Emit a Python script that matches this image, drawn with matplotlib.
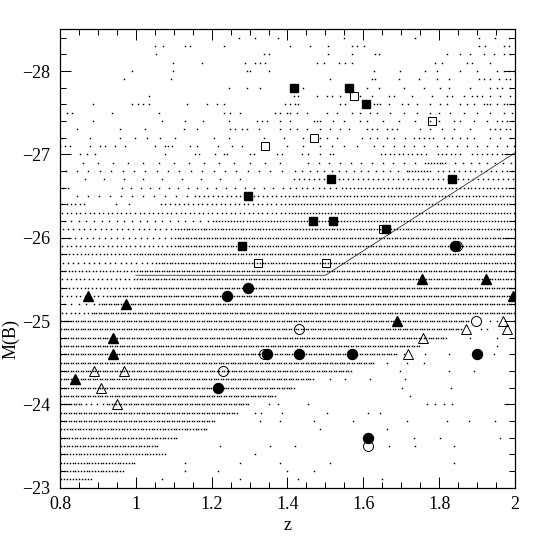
import numpy as np
import matplotlib
matplotlib.use("Agg")
import matplotlib.pyplot as plt
from matplotlib.ticker import MultipleLocator, FuncFormatter

# quasar sample: individual background dots for the sparse bright rows (M, list of z)
sparse_rows = [
    (-28.4, [1.271, 1.315, 1.375, 1.548, 1.737, 1.904, 1.948, 1.983]),
    (-28.3, [1.051, 1.073, 1.130, 1.142, 1.232, 1.407, 1.460, 1.508, 1.570, 1.583, 1.601,
             1.904, 1.922, 1.970, 1.983]),
    (-28.2, [1.054, 1.337, 1.350, 1.508, 1.570, 1.631, 1.640, 1.821, 1.856, 1.882, 1.917,
             1.944, 1.970, 1.988]),
    (-28.1, [1.098, 1.174, 1.289, 1.315, 1.328, 1.342, 1.477, 1.495, 1.535, 1.552, 1.570,
             1.790, 1.807, 1.873, 1.887, 1.935]),
    (-28.0, [0.990, 1.098, 1.293, 1.302, 1.350, 1.627, 1.697, 1.763, 1.794, 1.856, 1.900,
             1.953, 1.970, 1.983, 1.997]),
    (-27.9, [0.968, 1.092, 1.513, 1.623, 1.631, 1.693, 1.746, 1.794, 1.825, 1.904, 1.917,
             1.935, 1.957, 1.975, 1.988]),
    (-27.8, [1.245, 1.293, 1.328, 1.442, 1.609, 1.640, 1.706, 1.759, 1.803, 1.825, 1.882,
             1.935, 1.953, 1.966, 1.988]),
    (-27.7, [1.036, 1.416, 1.429, 1.477, 1.504, 1.517, 1.539, 1.592, 1.623, 1.667, 1.680,
             1.728, 1.781, 1.821, 1.834, 1.865, 1.887, 1.900, 1.913, 1.935, 1.961, 1.988]),
    (-27.6, [0.888, 0.990, 1.007, 1.020, 1.034, 1.135, 1.188, 1.214, 1.232, 1.394, 1.407,
             1.420, 1.429, 1.539, 1.552, 1.627, 1.636, 1.645, 1.667, 1.702, 1.719, 1.741,
             1.777, 1.803, 1.821, 1.856, 1.873, 1.891, 1.917, 1.926, 1.935, 1.953, 1.970,
             1.979, 1.988, 1.997]),
    (-27.5, [0.818, 0.831, 0.938, 1.060, 1.232, 1.249, 1.276, 1.368, 1.381, 1.399, 1.407,
             1.425, 1.451, 1.504, 1.530, 1.570, 1.592, 1.618, 1.636, 1.671, 1.706, 1.741,
             1.777, 1.799, 1.829, 1.865, 1.900, 1.935, 1.970, 1.992]),
    (-27.4, [0.888, 1.069, 1.130, 1.178, 1.245, 1.320, 1.333, 1.346, 1.381, 1.407, 1.469,
             1.477, 1.486, 1.521, 1.548, 1.592, 1.609, 1.653, 1.693, 1.737, 1.777, 1.799,
             1.838, 1.856, 1.891, 1.926, 1.953, 1.966, 1.979, 1.992]),
    (-27.3, [0.844, 0.959, 1.025, 1.126, 1.161, 1.249, 1.262, 1.280, 1.293, 1.324, 1.381,
             1.407, 1.425, 1.451, 1.486, 1.513, 1.539, 1.561, 1.609, 1.623, 1.636, 1.662,
             1.675, 1.689, 1.750, 1.777, 1.807, 1.838, 1.882, 1.935, 1.948, 1.961, 1.975,
             1.988]),
    (-27.2, [0.805, 0.880, 0.959, 0.998, 1.029, 1.064, 1.104, 1.205, 1.245, 1.337, 1.390,
             1.442, 1.486, 1.504, 1.530, 1.596, 1.618, 1.636, 1.662, 1.680, 1.711, 1.733,
             1.746, 1.759, 1.772, 1.785, 1.812, 1.834, 1.856, 1.873, 1.891, 1.935, 1.961,
             1.988]),
    (-27.1, [0.800, 0.813, 0.826, 0.880, 0.906, 0.919, 0.946, 0.972, 1.051, 1.078, 1.086,
             1.095, 1.144, 1.161, 1.218, 1.253, 1.280, 1.399, 1.442, 1.486, 1.517, 1.548,
             1.583, 1.627, 1.653, 1.680, 1.706, 1.733, 1.759, 1.794, 1.821, 1.847, 1.873,
             1.900, 1.926, 1.953, 1.979, 1.997]),
    (-27.0, [0.853, 0.871, 0.893, 1.078, 1.157, 1.166, 1.209, 1.232, 1.240, 1.302, 1.311,
             1.372, 1.386, 1.438, 1.455, 1.486, 1.513, 1.521]),
    # faint tail beyond the survey limit
    (-25.0, [1.935, 1.953, 1.997]),
    (-24.9, [1.909, 1.926]),
    (-24.8, [1.882, 1.953]),
    (-24.7, [1.953]),
    (-24.6, [1.706, 1.763, 1.825, 1.944]),
    (-24.5, [1.662, 1.715, 1.759]),
    (-24.4, [1.697, 1.825, 1.891]),
    (-24.3, [1.513, 1.552, 1.618, 1.711]),
    (-24.2, [1.702, 1.830]),
    (-24.1, [1.724]),
    (-24.0, [1.350, 1.376, 1.455, 1.768, 1.790, 1.812, 1.834, 1.979]),
    (-23.9, [1.315, 1.330, 1.385, 1.504, 1.612, 1.645]),
    (-23.8, [1.328, 1.380, 1.469, 1.574, 1.715, 1.821, 1.878, 1.948]),
    (-23.7, [1.486, 1.662]),
    (-23.6, [1.733, 1.803, 1.961]),
    (-23.5, [1.223, 1.354, 1.420, 1.667, 1.737, 1.840]),
    (-23.4, [1.315]),
    (-23.3, [1.130, 1.276, 1.381, 1.513, 1.838]),
    (-23.2, [1.130, 1.218, 1.399, 1.469]),
    (-23.1, [1.069, 1.276, 1.429, 1.649]),
]

# crowded rows: (M, z from, z to, typical dot spacing in z)
dense_runs = [
    (-27.0, 1.64, 1.77, 0.012), (-27.0, 1.79, 1.86, 0.012), (-27.0, 1.88, 2.0, 0.014),
    (-26.9, 0.84, 1.40, 0.04), (-26.9, 1.44, 1.75, 0.028), (-26.9, 1.76, 1.82, 0.008),
    (-26.9, 1.83, 2.0, 0.02),
    (-26.8, 0.80, 1.40, 0.03), (-26.8, 1.41, 1.70, 0.02), (-26.8, 1.71, 1.78, 0.008),
    (-26.8, 1.79, 2.0, 0.014),
    (-26.7, 0.84, 1.30, 0.05), (-26.7, 1.41, 2.0, 0.013),
    (-26.6, 0.80, 0.83, 0.015), (-26.6, 0.95, 1.40, 0.025), (-26.6, 1.40, 1.55, 0.015),
    (-26.6, 1.55, 2.0, 0.01),
    (-26.5, 0.83, 1.15, 0.03), (-26.5, 1.15, 1.40, 0.012), (-26.5, 1.40, 2.0, 0.009),
    (-26.4, 0.80, 0.87, 0.012), (-26.4, 0.93, 1.0, 0.03), (-26.4, 1.06, 1.40, 0.012),
    (-26.4, 1.40, 2.0, 0.008),
    (-26.3, 0.80, 1.40, 0.012), (-26.3, 1.40, 2.0, 0.008),
    (-26.2, 0.80, 1.20, 0.02), (-26.2, 1.20, 2.0, 0.008),
    (-26.1, 0.80, 1.10, 0.014), (-26.1, 1.10, 2.0, 0.0075),
    (-26.0, 0.80, 1.10, 0.016), (-26.0, 1.10, 2.0, 0.007),
    (-25.9, 0.80, 1.10, 0.012), (-25.9, 1.10, 2.0, 0.007),
    (-25.8, 0.80, 1.00, 0.01), (-25.8, 1.00, 2.0, 0.007),
    (-25.7, 0.80, 1.05, 0.014), (-25.7, 1.05, 2.0, 0.0072),
    (-25.6, 0.80, 1.00, 0.009), (-25.6, 1.00, 2.0, 0.0066),
    (-25.5, 0.80, 1.00, 0.012), (-25.5, 1.00, 2.0, 0.007),
    (-25.4, 0.80, 1.00, 0.01), (-25.4, 1.00, 2.0, 0.0064),
    (-25.3, 0.80, 0.93, 0.012), (-25.3, 0.93, 2.0, 0.0064),
    (-25.2, 0.80, 0.90, 0.02), (-25.2, 0.90, 2.0, 0.0064),
    (-25.1, 0.80, 0.88, 0.012), (-25.1, 0.88, 2.0, 0.0064),
    (-25.0, 0.80, 1.88, 0.0064),
    (-24.9, 0.80, 1.86, 0.0064),
    (-24.8, 0.80, 1.82, 0.0064),
    (-24.7, 0.80, 1.75, 0.0064),
    (-24.6, 0.80, 1.69, 0.0064),
    (-24.5, 0.80, 1.63, 0.0064),
    (-24.4, 0.80, 1.57, 0.0064),
    (-24.3, 0.80, 1.47, 0.0064),
    (-24.2, 0.80, 1.42, 0.0064),
    (-24.1, 0.80, 1.37, 0.0064),
    (-24.0, 0.80, 0.86, 0.0064), (-24.0, 0.86, 0.92, 0.015), (-24.0, 0.92, 1.30, 0.0064),
    (-23.9, 0.80, 1.27, 0.0066),
    (-23.8, 0.80, 1.21, 0.0066),
    (-23.7, 0.80, 1.19, 0.0072),
    (-23.6, 0.80, 1.11, 0.0070),
    (-23.5, 0.80, 1.06, 0.0070),
    (-23.4, 0.80, 1.08, 0.0075),
    (-23.3, 0.80, 1.00, 0.0075),
    (-23.2, 0.80, 0.97, 0.0075),
    (-23.1, 0.80, 0.885, 0.008),
]

# highlighted objects
fsq_z = [1.417, 1.563, 1.607, 1.514, 1.297, 1.466, 1.520, 1.659, 1.279, 1.834]
fsq_m = [-27.8, -27.8, -27.6, -26.7, -26.5, -26.2, -26.2, -26.1, -25.9, -26.7]
osq_z = [1.575, 1.470, 1.341, 1.782, 1.321, 1.501, 1.651]
osq_m = [-27.7, -27.2, -27.1, -27.4, -25.7, -25.7, -26.1]
ftri_z = [0.875, 0.974, 0.941, 0.941, 0.841, 1.754, 1.924, 1.994, 1.688]
ftri_m = [-25.3, -25.2, -24.8, -24.6, -24.3, -25.5, -25.5, -25.3, -25.0]
otri_z = [0.891, 0.969, 0.908, 0.951, 1.968, 1.978, 1.871, 1.757, 1.717]
otri_m = [-24.4, -24.4, -24.2, -24.0, -25.0, -24.9, -24.9, -24.8, -24.6]
fcir_z = [1.241, 1.218, 1.295, 1.345, 1.431, 1.571, 1.901, 1.611, 1.842]
fcir_m = [-25.3, -24.2, -25.4, -24.6, -24.6, -24.6, -24.6, -23.6, -25.9]
ocir_z = [1.231, 1.431, 1.898, 1.611, 1.338, 1.847]
ocir_m = [-24.4, -24.9, -25.0, -23.5, -24.6, -25.9]

# limit line
lim_z = [1.0, 1.5, 2.0]
lim_m = [-25.55, -25.55, -27.02]

dot_z, dot_m = [], []
for m, zs in sparse_rows:
    dot_z += zs
    dot_m += [m] * len(zs)
for m, z0, z1, step in dense_runs:
    n = max(int(round((z1 - z0) / step)), 1)
    zs = z0 + (np.arange(n) + 0.5) * (z1 - z0) / n
    dot_z += list(zs)
    dot_m += [m] * n

plt.rcParams["font.family"] = ["Liberation Serif", "DejaVu Serif"]
fig = plt.figure(figsize=(5.45, 5.45), dpi=100)
ax = fig.add_axes([0.110, 0.105, 0.835, 0.841])

ax.plot(dot_z, dot_m, ls="none", marker="s", ms=1.05, mew=0, color="k")
ax.plot(lim_z, lim_m, color="#333333", lw=0.6)

ax.plot(osq_z, osq_m, ls="none", marker="s", ms=5.8, mfc="none", mec="k", mew=0.7)
ax.plot(fsq_z, fsq_m, ls="none", marker="s", ms=5.8, color="k")
ax.plot(otri_z, otri_m, ls="none", marker="^", ms=6.8, mfc="none", mec="k", mew=0.7)
ax.plot(ftri_z, ftri_m, ls="none", marker="^", ms=6.8, color="k")
ax.plot(ocir_z, ocir_m, ls="none", marker="o", ms=7.2, mfc="none", mec="k", mew=0.7)
ax.plot(fcir_z, fcir_m, ls="none", marker="o", ms=7.2, color="k")

ax.set_xlim(0.8, 2.0)
ax.set_ylim(-23, -28.5)

fmt = FuncFormatter(lambda v, p: f"{v:g}".replace("-", "\u2212"))
ax.xaxis.set_major_locator(MultipleLocator(0.2))
ax.xaxis.set_minor_locator(MultipleLocator(0.05))
ax.yaxis.set_major_locator(MultipleLocator(1))
ax.yaxis.set_minor_locator(MultipleLocator(0.2))
ax.xaxis.set_major_formatter(fmt)
ax.yaxis.set_major_formatter(fmt)
ax.tick_params(which="both", direction="in", top=True, right=True, width=0.7,
               labelsize=13)
ax.tick_params(which="major", length=8)
ax.tick_params(which="minor", length=4)
ax.tick_params(axis="x", pad=6)
ax.tick_params(axis="y", pad=7)
for s in ax.spines.values():
    s.set_linewidth(0.9)

ax.set_xlabel("z", fontsize=13, labelpad=3)
ax.set_ylabel("M(B)", fontsize=13)
ax.yaxis.set_label_coords(-0.088, 0.325)

fig.savefig("out.png", dpi=100)
